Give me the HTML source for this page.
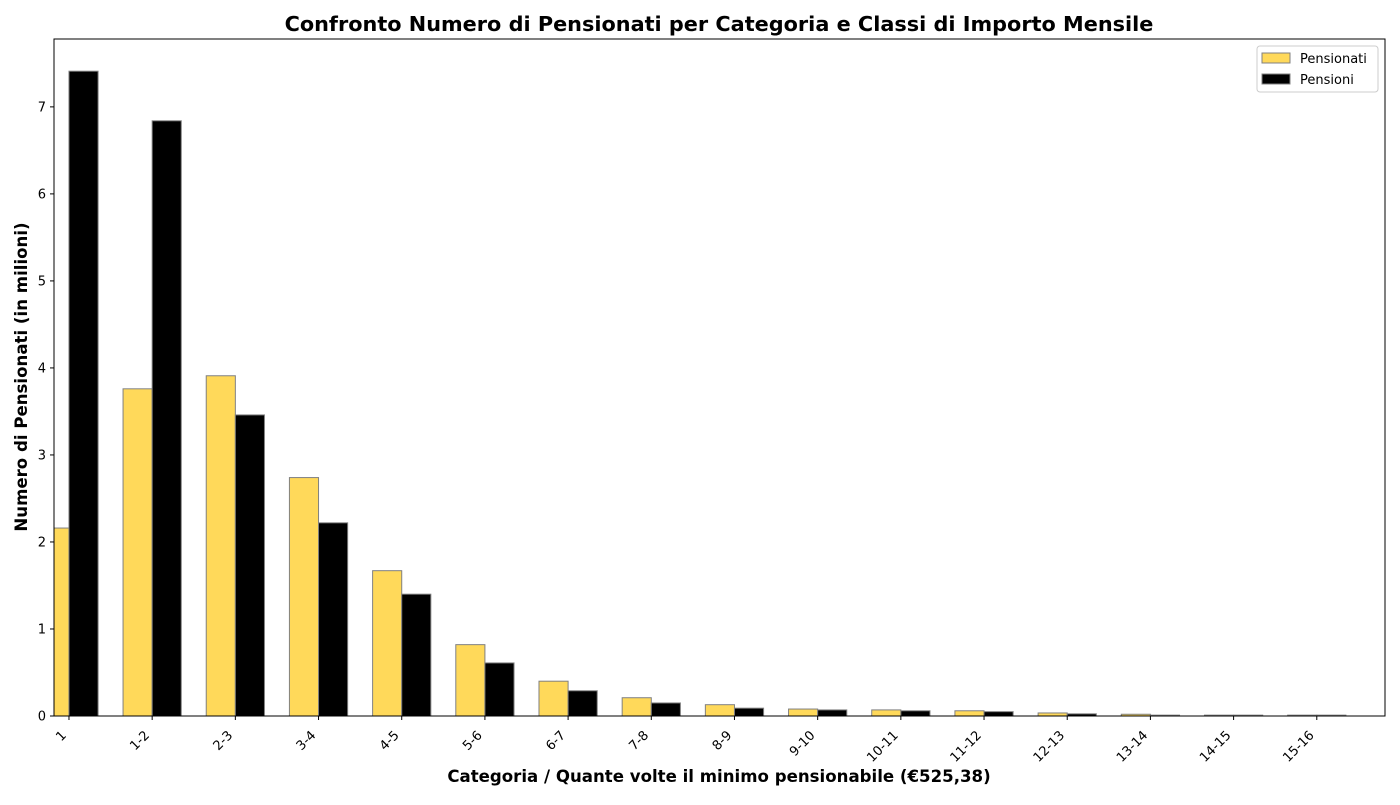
<!DOCTYPE html>
<html><head><meta charset="utf-8"><style>
body{margin:0;background:#fff;font-family:"Liberation Sans","DejaVu Sans",sans-serif}
svg text{font-family:"DejaVu Sans","Liberation Sans",sans-serif}
</style></head><body>
<svg id="chart" width="1400" height="800" xmlns="http://www.w3.org/2000/svg">
<text x="719" y="31" text-anchor="middle" font-size="20.8" font-weight="bold">Confronto Numero di Pensionati per Categoria e Classi di Importo Mensile</text>
<text x="719" y="782" text-anchor="middle" font-size="16.6" font-weight="bold">Categoria / Quante volte il minimo pensionabile (€525,38)</text>
<text transform="translate(27,377) rotate(-90)" text-anchor="middle" font-size="16.6" font-weight="bold">Numero di Pensionati (in milioni)</text>
<g id="bars"></g>
<g id="ticks"></g>
<rect x="54" y="39" width="1331" height="677" fill="none" stroke="#000" stroke-width="1"/>
<g>
<rect x="1257" y="46" width="121" height="46" fill="#fff" stroke="#ccc" rx="3"/>
<rect x="1262" y="53" width="28" height="10" fill="#FFD95A" stroke="#808080"/>
<text x="1300" y="63" font-size="13">Pensionati</text>
<rect x="1262" y="74" width="28" height="10" fill="#000" stroke="#808080"/>
<text x="1300" y="84" font-size="13">Pensioni</text>
</g>
</svg>
<script>
const categories=["1","1-2","2-3","3-4","4-5","5-6","6-7","7-8","8-9","9-10","10-11","11-12","12-13","13-14","14-15","15-16"];
const pensionati=[2.16,3.76,3.91,2.74,1.67,0.82,0.40,0.21,0.13,0.08,0.07,0.06,0.035,0.02,0.01,0.01];
const pensioni=[7.41,6.84,3.46,2.22,1.40,0.61,0.29,0.15,0.09,0.07,0.06,0.05,0.025,0.01,0.01,0.01];
const yTicks=[0,1,2,3,4,5,6,7];
const NS="http://www.w3.org/2000/svg";
const X0=54,X1=1385,Y0=716,YT=39;
const xMin=-0.18,xMax=15.82,yMax=7.78;
const xs=i=>X0+(i-xMin)/(xMax-xMin)*(X1-X0);
const ys=v=>Y0-v/yMax*(Y0-YT);
const bw=0.35*(X1-X0)/(xMax-xMin);
const bars=document.getElementById('bars'),ticks=document.getElementById('ticks');
function mk(tag,attrs,parent){const e=document.createElementNS(NS,tag);for(const k in attrs)e.setAttribute(k,attrs[k]);parent.appendChild(e);return e;}
const clip=mk('clipPath',{id:'pc'},document.getElementById('chart'));
mk('rect',{x:X0,y:YT,width:X1-X0,height:Y0-YT},clip);
bars.setAttribute('clip-path','url(#pc)');
categories.forEach((c,i)=>{
 const cx=xs(i);
 const a=mk('rect',{x:cx-bw,y:ys(pensionati[i]),width:bw,height:Y0-ys(pensionati[i]),fill:'#FFD95A',stroke:'#808080'},bars);
 
 
 const b=mk('rect',{x:cx,y:ys(pensioni[i]),width:bw,height:Y0-ys(pensioni[i]),fill:'#000',stroke:'#808080'},bars);
 
 
 mk('line',{x1:cx,x2:cx,y1:Y0,y2:Y0+4,stroke:'#000'},ticks);
 const lx=cx-2,ly=Y0+20;
 const t=mk('text',{x:lx,y:ly,'font-size':13,'text-anchor':'end',transform:`rotate(-45 ${lx} ${ly})`},ticks);
 t.textContent=c;
 
 
});
yTicks.forEach(v=>{
 const y=ys(v);
 mk('line',{x1:X0-4,x2:X0,y1:y,y2:y,stroke:'#000'},ticks);
 const t=mk('text',{x:X0-8,y:y+4.5,'font-size':13,'text-anchor':'end'},ticks);
 t.textContent=v;
 
 
});
</script>
</body></html>
